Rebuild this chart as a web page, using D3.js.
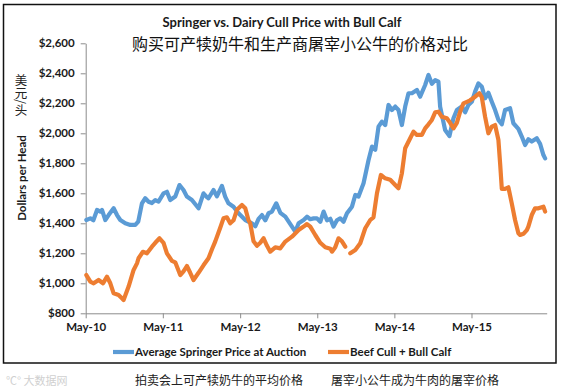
<!DOCTYPE html>
<html><head><meta charset="utf-8">
<script src="https://cdn.jsdelivr.net/npm/d3@7"></script>
<style>
html,body{margin:0;padding:0;background:#fff;}
svg{display:block;}
</style></head>
<body>
<script>
// ---------- DATA ----------
const titleText = "Springer vs. Dairy Cull Price with Bull Calf";
const subtitleText = "购买可产犊奶牛和生产商屠宰小公牛的价格对比";
const yAxisTitle = "Dollars per Head";
const yAxisTitleCn = "美元/头";
const seriesNames = ["Average Springer Price at Auction", "Beef Cull + Bull Calf"];
const seriesNamesCn = ["拍卖会上可产犊奶牛的平均价格", "屠宰小公牛成为牛肉的屠宰价格"];
const yTicks = [800, 1000, 1200, 1400, 1600, 1800, 2000, 2200, 2400, 2600];
const xTickYears = [2010, 2011, 2012, 2013, 2014, 2015]; // May of each year

// decimal years
const springerYears = [
 2010.337,2010.389,2010.428,2010.476,2010.518,2010.540,2010.583,2010.626,2010.691,2010.735,
 2010.777,2010.842,2010.907,2010.972,2011.010,2011.058,2011.101,2011.144,2011.188,2011.231,
 2011.273,2011.338,2011.382,2011.425,2011.490,2011.545,2011.597,2011.641,2011.706,2011.792,
 2011.856,2011.900,2011.921,2011.986,2012.030,2012.095,2012.137,2012.180,2012.245,2012.310,
 2012.397,2012.483,2012.526,2012.569,2012.613,2012.656,2012.698,2012.742,2012.798,2012.850,
 2012.915,2013.001,2013.044,2013.087,2013.152,2013.196,2013.238,2013.281,2013.325,2013.368,
 2013.411,2013.455,2013.498,2013.540,2013.584,2013.627,2013.670,2013.714,2013.779,2013.822,
 2013.864,2013.929,2013.994,2014.038,2014.081,2014.123,2014.167,2014.210,2014.253,2014.297,
 2014.340,2014.382,2014.426,2014.469,2014.512,2014.556,2014.621,2014.663,2014.728,2014.771,
 2014.815,2014.858,2014.900,2014.922,2014.987,2015.043,2015.095,2015.139,2015.204,2015.246,
 2015.289,2015.333,2015.376,2015.419,2015.463,2015.505,2015.548,2015.592,2015.635,2015.678,
 2015.722,2015.764,2015.829,2015.872,2015.937,2015.981,2016.024,2016.066,2016.110,2016.175,
 2016.218,2016.261,2016.283];
const springerPrice = [
 1422,1433,1420,1489,1478,1489,1422,1455,1500,1455,
 1422,1400,1389,1389,1411,1533,1567,1544,1535,1555,
 1545,1600,1610,1555,1578,1655,1622,1578,1555,1500,
 1600,1575,1567,1622,1580,1649,1578,1533,1510,1467,
 1422,1400,1380,1430,1455,1420,1467,1478,1533,1470,
 1444,1378,1344,1400,1422,1444,1427,1433,1433,1410,
 1478,1420,1430,1378,1420,1433,1411,1467,1511,1589,
 1578,1667,1822,1911,1890,2044,2078,2055,2189,2155,
 2178,2155,2055,2178,2267,2267,2289,2244,2322,2389,
 2330,2355,2344,2178,2022,1982,2100,2155,2178,2140,
 2189,2210,2278,2333,2310,2233,2270,2210,2155,2089,
 2060,2155,2167,2067,2030,1978,1922,1960,1945,1967,
 1930,1855,1833];

const beefYears = [
 2010.337,2010.389,2010.432,2010.496,2010.553,2010.605,2010.648,2010.691,2010.755,2010.799,
 2010.820,2010.885,2010.950,2010.994,2011.014,2011.071,2011.123,2011.188,2011.231,2011.286,
 2011.338,2011.382,2011.447,2011.490,2011.555,2011.597,2011.641,2011.684,2011.727,2011.792,
 2011.856,2011.921,2011.969,2012.008,2012.073,2012.115,2012.159,2012.202,2012.245,2012.289,
 2012.354,2012.397,2012.439,2012.461,2012.504,2012.548,2012.591,2012.634,2012.678,2012.720,
 2012.785,2012.850,2012.915,2013.001,2013.087,2013.152,2013.196,2013.238,2013.303,2013.368,
 2013.433,2013.498,2013.520,2013.562,2013.605,2013.649,2013.692,2013.725,2013.757,2013.822,
 2013.886,2013.951,2014.016,2014.058,2014.103,2014.154,2014.210,2014.275,2014.340,2014.382,
 2014.426,2014.469,2014.534,2014.577,2014.621,2014.686,2014.728,2014.771,2014.815,2014.858,
 2014.900,2014.944,2015.009,2015.052,2015.095,2015.139,2015.182,2015.225,2015.269,2015.311,
 2015.376,2015.432,2015.463,2015.505,2015.548,2015.592,2015.635,2015.678,2015.700,2015.722,
 2015.764,2015.807,2015.851,2015.894,2015.937,2015.959,2016.002,2016.046,2016.066,2016.110,
 2016.153,2016.196,2016.261,2016.283];
const beefPrice = [
 1055,1011,1000,1022,1000,1044,1000,933,922,900,
 889,978,1089,1133,1167,1210,1200,1244,1270,1300,
 1270,1200,1150,1140,1055,1080,1115,1070,1022,1070,
 1120,1167,1230,1278,1370,1433,1440,1400,1420,1490,
 1522,1500,1420,1400,1280,1250,1270,1300,1250,1211,
 1240,1233,1278,1311,1355,1378,1395,1378,1322,1270,
 1240,1230,1211,1240,1300,1280,1244,null,1200,1222,
 1267,1367,1422,1440,1600,1722,1700,1690,1655,1633,
 1733,1900,1967,2011,1989,1990,2033,2060,2089,2140,
 2144,2110,2100,2070,2033,2070,2144,2200,2210,2220,
 2244,2267,2240,2111,2000,2045,2055,1955,1800,1630,
 1630,1640,1533,1422,1333,1322,1330,1355,1378,1455,
 1500,1500,1511,1478];

const colors = ["#5B9BD5", "#ED7D31"];

// ---------- CHART ----------
const W = 562, H = 389;
const svg = d3.select("body").append("svg").attr("width", W).attr("height", H);
svg.append("rect").attr("width", W).attr("height", H).attr("fill", "#fff");

const latin = "Lato, 'Open Sans', 'Liberation Sans', sans-serif";
const cjk = "'Noto Sans CJK SC', 'Noto Sans', sans-serif";

// frame
svg.append("rect").attr("x", 3.5).attr("y", 4.5).attr("width", 552.5).attr("height", 358.5)
  .attr("fill", "none").attr("stroke", "#111").attr("stroke-width", 1.5);

function toDate(t) {
  const y = Math.floor(t);
  const a = new Date(y, 0, 1), b = new Date(y + 1, 0, 1);
  return new Date(+a + (t - y) * (b - a));
}

const x = d3.scaleTime().domain([new Date(2010, 4, 1), new Date(2016, 3, 21)]).range([85.7, 546.7]);
const y = d3.scaleLinear().domain([800, 2600]).range([313.3, 43.3]);

// axes
const yAxis = svg.append("g").attr("transform", "translate(85.7,0)")
  .call(d3.axisLeft(y).tickValues(yTicks).tickSize(5).tickSizeOuter(0).tickPadding(6)
    .tickFormat(d => "$" + d3.format(",")(d)));
const xAxis = svg.append("g").attr("transform", "translate(0,313.3)")
  .call(d3.axisBottom(x).tickValues(xTickYears.map(yr => new Date(yr, 4, 1))).tickSize(5)
    .tickSizeOuter(0).tickPadding(5).tickFormat(d3.timeFormat("%b-%y")));
[yAxis, xAxis].forEach(g => {
  g.select(".domain").attr("stroke", "#8c8c8c").attr("stroke-width", 1);
  g.selectAll(".tick line").attr("stroke", "#8c8c8c");
  g.selectAll(".tick text").attr("fill", "#1a1a1a").attr("font-family", latin)
    .attr("font-weight", "bold").attr("font-size", 11.5);
});

// lines
const line = d3.line().defined(d => d[1] != null)
  .x(d => x(toDate(d[0]))).y(d => y(d[1])).curve(d3.curveLinear);
const series = [
  springerYears.map((t, i) => [t, springerPrice[i]]),
  beefYears.map((t, i) => [t, beefPrice[i]])
];
series.forEach((s, i) => {
  svg.append("path").datum(s).attr("d", line).attr("fill", "none")
    .attr("stroke", colors[i]).attr("stroke-width", 4.2)
    .attr("stroke-linejoin", "round").attr("stroke-linecap", "round");
});

// titles
svg.append("text").attr("x", 282).attr("y", 27).attr("text-anchor", "middle")
  .attr("font-family", latin).attr("font-weight", "bold").attr("font-size", 13)
  .attr("fill", "#1a1a1a").text(titleText);
svg.append("text").attr("x", 300).attr("y", 50).attr("text-anchor", "middle")
  .attr("font-family", cjk).attr("font-size", 16).attr("fill", "#111").text(subtitleText);

svg.append("text").attr("transform", "translate(26,178) rotate(-90)").attr("text-anchor", "middle")
  .attr("font-family", latin).attr("font-weight", "bold").attr("font-size", 11.5)
  .attr("fill", "#1a1a1a").text(yAxisTitle);
svg.append("text").attr("x", 21).attr("y", 74)
  .style("writing-mode", "vertical-rl")
  .attr("font-family", cjk).attr("font-size", 12.5).attr("fill", "#222")
  .text(yAxisTitleCn);

// legend
const legendX = [113, 328];
seriesNames.forEach((n, i) => {
  svg.append("line").attr("x1", legendX[i]).attr("x2", legendX[i] + 21).attr("y1", 352).attr("y2", 352)
    .attr("stroke", colors[i]).attr("stroke-width", 4.2);
  svg.append("text").attr("x", legendX[i] + 22).attr("y", 356).attr("font-family", latin)
    .attr("font-weight", "bold").attr("font-size", 11.5).attr("fill", "#1a1a1a").text(n);
});

// bottom chinese labels
const cnX = [135, 331];
seriesNamesCn.forEach((n, i) => {
  svg.append("text").attr("x", cnX[i]).attr("y", 385).attr("font-family", cjk)
    .attr("font-size", 12).attr("fill", "#222").text(n);
});
// watermark
svg.append("text").attr("x", 6).attr("y", 385).attr("font-family", cjk).attr("font-size", 11)
  .attr("fill", "#d0d0d0").text("℃° 大数据网");
</script>
</body></html>
